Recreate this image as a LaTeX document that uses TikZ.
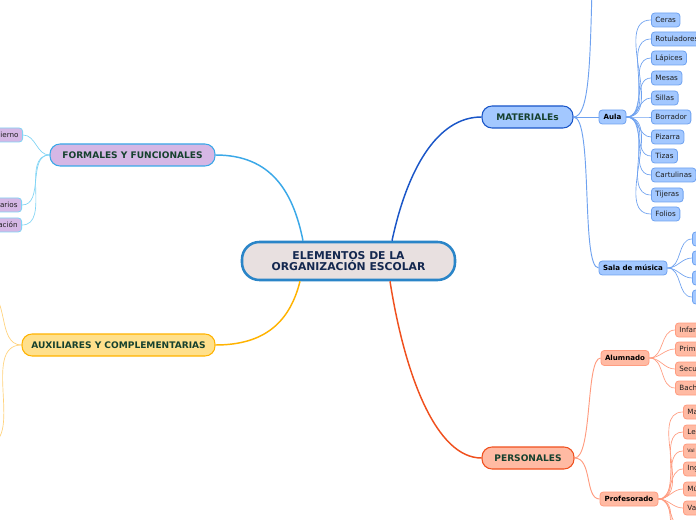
\documentclass[tikz,border=0pt]{standalone}
\usepackage{fontspec}
\setmainfont{DejaVu Sans}
\usetikzlibrary{calc}
\definecolor{cenfill}{RGB}{232,224,224}
\definecolor{cenline}{RGB}{42,133,200}
\definecolor{centext}{RGB}{20,40,80}
\definecolor{ttext}{RGB}{22,65,46}
\definecolor{forfill}{RGB}{213,183,229}
\definecolor{forline}{RGB}{58,168,232}
\definecolor{forlight}{RGB}{128,212,245}
\definecolor{auxfill}{RGB}{255,224,140}
\definecolor{auxline}{RGB}{255,179,0}
\definecolor{auxlight}{RGB}{255,210,122}
\definecolor{matfill}{RGB}{163,200,255}
\definecolor{matline}{RGB}{26,86,200}
\definecolor{matlight}{RGB}{111,162,240}
\definecolor{perfill}{RGB}{255,186,163}
\definecolor{perline}{RGB}{240,80,30}
\definecolor{perlight}{RGB}{255,156,128}
\definecolor{leaftext}{RGB}{30,30,30}
\tikzset{
  central/.style={draw=cenline, line width=1.9pt, fill=cenfill, rounded corners=13pt,
    minimum width=159.75pt, minimum height=28.5pt, align=center, text=centext,
    font=\fontsize{8.1pt}{8.8pt}\selectfont\bfseries, inner sep=0pt},
  topic/.style={line width=0.8pt, rounded corners=7.5pt, minimum height=16.5pt,
    text=ttext, font=\fontsize{6.8pt}{7.5pt}\selectfont\bfseries, inner sep=0pt},
  sub/.style={line width=0.6pt, rounded corners=2.5pt, minimum height=10.5pt,
    text=black, font=\fontsize{5.3pt}{6pt}\selectfont\bfseries, inner sep=0pt},
  leaf/.style={line width=0.6pt, rounded corners=2.5pt, minimum height=10.5pt,
    text=leaftext, font=\fontsize{5.4pt}{6pt}\selectfont, inner xsep=3pt, inner ysep=0pt},
  rcut/.style={leaf, text width=40pt, align=left, anchor=west},
  lcut/.style={leaf, text width=40pt, align=right, anchor=east},
  c1/.style={line width=1.1pt},
  c2/.style={line width=0.7pt},
  c3/.style={line width=0.5pt},
}
\begin{document}
\begin{tikzpicture}[x=0.75pt,y=-0.75pt]
\useasboundingbox (0,0) rectangle (696,520);
\fill[white] (0,0) rectangle (696,520);
\clip (0,0) rectangle (696,520);

% central
\node[central] (cen) at (348.5,261) {ELEMENTOS DE LA\\ORGANIZACIÓN ESCOLAR};

% topics
\node[topic, draw=forline, fill=forfill, minimum width=123.75pt] (for) at (132.5,155) {FORMALES Y FUNCIONALES};
\node[topic, draw=auxline, fill=auxfill, minimum width=144.75pt] (aux) at (118.5,345) {AUXILIARES Y COMPLEMENTARIAS};
\node[topic, draw=matline, fill=matfill, minimum width=68.25pt] (mat) at (527.5,117) {MATERIALEs};
\node[topic, draw=perline, fill=perfill, minimum width=69pt] (per) at (528,458) {PERSONALES};

% central connectors
\draw[c1, forline] ($(cen.north)+(-45.5,0)$) .. controls +(-10,-50) and +(55,0) .. (for.east);
\draw[c1, auxline] ($(cen.south)+(-48.5,0)$) .. controls +(-10,40) and +(50,0) .. (aux.east);
\draw[c1, matline] ($(cen.north)+(43.5,0)$) .. controls +(15,-70) and +(-45,0) .. (mat.west);
\draw[c1, perline] ($(cen.south)+(41.5,0)$) .. controls +(15,95) and +(-45,0) .. (per.west);

% formales leaves (cut at left edge, as in the reference)
\node[lcut, draw=forlight, fill=forfill] (gob) at (23,135) {ierno};
\node[lcut, draw=forlight, fill=forfill] (hor) at (22,205) {rarios};
\node[lcut, draw=forlight, fill=forfill] (eva) at (22,225) {ación};
\foreach \n in {gob,hor,eva}
  \draw[c3, forlight] (for.west) to[out=180,in=0] (\n.east);

% auxiliares branches (off canvas)
\coordinate (auxa) at (-15,292);
\coordinate (auxb) at (-15,445);
\draw[c3, auxlight] (aux.west) to[out=180,in=0] (auxa);
\draw[c3, auxlight] (aux.west) to[out=180,in=0] (auxb);

% materiales
\node[sub, draw=matlight, fill=matfill, minimum width=20.25pt] (aula) at (612.5,117) {Aula};
\node[sub, draw=matlight, fill=matfill, minimum width=51pt] (sala) at (633,268) {Sala de música};
\coordinate (matup) at (592,-10);
\draw[c2, matlight] (mat.east) -- (aula.west);
\draw[c2, matlight] (mat.east) .. controls +(16,0) and +(-2,70) .. (matup);
\draw[c2, matlight] (mat.east) .. controls +(20,0) and +(-18,0) .. (sala.west);

\foreach \t/\y/\n in {Ceras/20/a1,Rotuladores/39/a2,Lápices/58/a3,Mesas/78/a4,Sillas/98/a5,Borrador/117/a6,Pizarra/137/a7,Tizas/156/a8,Cartulinas/175/a9,Tijeras/195/a10,Folios/214/a11}{
  \node[leaf, draw=matlight, fill=matfill, anchor=west] (\n) at (651,\y) {\t};
  \draw[c3, matlight] (aula.east) to[out=0,in=180] (\n.west);
}
\foreach \y/\n in {239/s1,258/s2,278/s3,297/s4}{
  \node[rcut, draw=matlight, fill=matfill] (\n) at (692,\y) {};
  \draw[c3, matlight] (sala.east) to[out=0,in=180] (\n.west);
}

% personales
\node[sub, draw=perlight, fill=perfill, minimum width=36pt, minimum height=11.25pt] (alu) at (625,358) {Alumnado};
\node[sub, draw=perlight, fill=perfill, minimum width=43.5pt] (pro) at (629,499) {Profesorado};
\draw[c2, perlight] (per.east) .. controls +(18,0) and +(-15,0) .. (alu.west);
\draw[c2, perlight] (per.east) .. controls +(18,0) and +(-15,0) .. (pro.west);

\foreach \t/\y/\n in {Infan/330/p1,Prima/349/p2,Secu/369/p3,Bach/388/p4}{
  \node[rcut, draw=perlight, fill=perfill] (\n) at (675,\y) {\t};
  \draw[c3, perlight] (alu.east) to[out=0,in=180] (\n.west);
}
\foreach \t/\y/\n in {Ma/412/q1,Le/432/q2,Ing/469/q4,Mú/489/q5,Va/508/q6}{
  \node[rcut, draw=perlight, fill=perfill] (\n) at (683,\y) {\t};
  \draw[c3, perlight] (pro.east) to[out=0,in=180] (\n.west);
}
\node[rcut, draw=perlight, fill=perfill, font=\fontsize{3.6pt}{4pt}\selectfont] (q3) at (683,451) {Val};
\draw[c3, perlight] (pro.east) to[out=0,in=180] (q3.west);
\foreach \y/\n in {528/q7,547/q8,567/q9}{
  \node[rcut, draw=perlight, fill=perfill] (\n) at (683,\y) {};
  \draw[c3, perlight] (pro.east) to[out=0,in=180] (\n.west);
}
\end{tikzpicture}
\end{document}
